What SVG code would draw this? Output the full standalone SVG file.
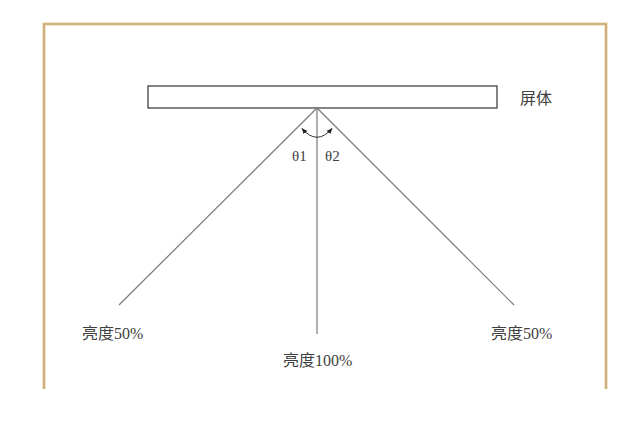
<svg xmlns="http://www.w3.org/2000/svg" width="643" height="421" viewBox="0 0 643 421">
<defs>
<style>
.lbl{font-family:"Liberation Serif","Noto Sans CJK SC",serif;font-size:16px;fill:#404040;}
.th{font-family:"Liberation Serif","Noto Sans CJK SC",serif;font-size:15px;fill:#404040;}
.ray{stroke:#7a7a7a;stroke-width:1.2;fill:none;}
</style>
<marker id="ah" viewBox="0 0 10 10" refX="9" refY="5" markerWidth="6" markerHeight="6" orient="auto-start-reverse" markerUnits="userSpaceOnUse">
<path d="M0,1 L10,5 L0,9 Z" fill="#222"/>
</marker>
</defs>
<rect x="0" y="0" width="643" height="421" fill="#ffffff"/>
<g id="frame">
<path d="M44,389 V24 H606 V389" fill="none" stroke="#f6e6c6" stroke-width="4"/>
<path d="M44,389 V24 H606 V389" fill="none" stroke="#c2a272" stroke-width="1.6"/>
</g>
<g id="screen">
<rect x="148" y="86" width="349" height="22" fill="#fff" stroke="#333" stroke-width="1.2"/>
<text class="lbl" x="520" y="104">屏体</text>
</g>
<g id="connectors">
<line class="ray" x1="317" y1="108" x2="317" y2="334"/>
<line class="ray" x1="317" y1="108" x2="119" y2="305"/>
<line class="ray" x1="317" y1="108" x2="514" y2="305"/>
<path d="M302,128.5 Q317,146 332,128.5" fill="none" stroke="#333" stroke-width="1" marker-start="url(#ah)" marker-end="url(#ah)"/>
</g>
<g id="angles">
<text class="th" x="292" y="161">θ1</text>
<text class="th" x="325" y="161">θ2</text>
</g>
<g id="label-left">
<text class="lbl" x="82" y="339">亮度50%</text>
</g>
<g id="label-center">
<text class="lbl" x="283" y="366">亮度100%</text>
</g>
<g id="label-right">
<text class="lbl" x="491" y="339">亮度50%</text>
</g>
</svg>
